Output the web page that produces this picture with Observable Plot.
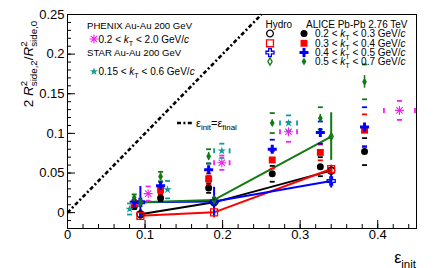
<!DOCTYPE html>
<html><head><meta charset="utf-8">
<script src="https://cdn.jsdelivr.net/npm/d3@7"></script>
<script src="https://cdn.jsdelivr.net/npm/@observablehq/plot@0.6"></script>
<style>
html,body{margin:0;padding:0;background:#fff;}
#chart{width:436px;height:268px;overflow:hidden;position:relative}
#chart svg{display:block}
text{white-space:pre}
</style></head><body><div id="chart"></div>
<script>
// ---------- data ----------
const aliceEps = [0.086, 0.120, 0.182, 0.264, 0.326, 0.383];
const aliceKt1 = [0.0076, 0.0186, 0.031, 0.049, 0.058, 0.077];
const aliceKt2 = [0.011, 0.0287, 0.0425, 0.0665, 0.076, 0.104];
const aliceKt3 = [0.013, 0.034, 0.054, 0.080, 0.101, 0.108];
const aliceKt4 = [0.019, 0.0455, 0.071, 0.113, 0.119, 0.165];
const aliceStat1 = [0.001, 0.001, 0.001, 0.001, 0.001, 0.001];
const aliceStat2 = [0.001, 0.001, 0.001, 0.001, 0.001, 0.002];
const aliceStat3 = [0.002, 0.002, 0.002, 0.002, 0.002, 0.003];
const aliceStat4 = [0.004, 0.005, 0.005, 0.004, 0.005, 0.008];
const aliceSys1 = [0.003, 0.004, 0.006, 0.010, 0.012, 0.017];
const aliceSys2 = [0.003, 0.005, 0.007, 0.011, 0.010, 0.020];
const aliceSys3 = [0.003, 0.005, 0.008, 0.012, 0.014, 0.025];
const aliceSys4 = [0.004, 0.006, 0.009, 0.0126, 0.014, 0.022];
const ktLow = ["0.2", "0.3", "0.4", "0.5"];
const ktHigh = ["0.3", "0.4", "0.5", "0.7"];

const hydroEps = [0.094, 0.189, 0.340];
const hydroKt1 = [-0.002, 0.013, 0.053];
const hydroKt2 = [-0.004, 0.0004, 0.055];
const hydroKt3 = [0.013, 0.014, 0.040];
const hydroKt4 = [0.013, 0.016, 0.096];
const hydroErr1 = [0.006, 0.004, 0.004];
const hydroErr2 = [0.006, 0.007, 0.005];
const hydroErr3 = [0.020, 0.018, 0.009];
const hydroErr4 = [0.004, 0.005, 0.030];

const phenixEps = [0.104, 0.199, 0.285, 0.428];
const phenixVal = [0.024, 0.063, 0.102, 0.129];
const phenixEpsSys = [0, 0.010, 0.011, 0.020];
const phenixSys = [0.009, 0.009, 0.0126, 0.012];

const starEps = [0.080, 0.129, 0.199, 0.285];
const starVal = [0.0046, 0.029, 0.078, 0.113];
const starEpsSys = [0, 0, 0.010, 0.011];
const starSys = [0.007, 0.011, 0.009, 0.0097];

const refX = [0, 0.25];
const refY = [0, 0.25];

const xMajor = [0, 0.1, 0.2, 0.3, 0.4];
const yMajor = [0, 0.05, 0.1, 0.15, 0.2, 0.25];

// ---------- styles ----------
const colors = ["#000000", "#ff0000", "#0000ff", "#137a13"];
const magenta = "#ee22ee";
const teal = "#109c9c";
const asterisk8 = {draw(ctx, size) {
  const r = Math.sqrt(size / Math.PI), d = r * Math.SQRT1_2;
  ctx.moveTo(-r, 0); ctx.lineTo(r, 0); ctx.moveTo(0, -r); ctx.lineTo(0, r);
  ctx.moveTo(-d, -d); ctx.lineTo(d, d); ctx.moveTo(-d, d); ctx.lineTo(d, -d);
}};
const hdash = {draw(ctx, size) { const r = Math.sqrt(size / Math.PI); ctx.moveTo(-r, 0); ctx.lineTo(r, 0); }};
const vdash = {draw(ctx, size) { const r = Math.sqrt(size / Math.PI); ctx.moveTo(0, -r); ctx.lineTo(0, r); }};
const aliceSym = [
  {symbol: "circle", r: 3.5}, {symbol: "square", r: 3.9},
  {symbol: "cross", r: 3.8}, {symbol: "diamond", r: 2.5}
];
const hydroSym = [
  {symbol: "circle", r: 3.4}, {symbol: "square", r: 3.9},
  {symbol: "cross", r: 3.4}, {symbol: "diamond", r: 2.2}
];

// ---------- tables ----------
const aliceVals = [aliceKt1, aliceKt2, aliceKt3, aliceKt4];
const aliceStats = [aliceStat1, aliceStat2, aliceStat3, aliceStat4];
const aliceSyss = [aliceSys1, aliceSys2, aliceSys3, aliceSys4];
const alice = aliceVals.flatMap((vals, s) => vals.map((v, i) => ({eps: aliceEps[i], v, stat: aliceStats[s][i], sys: aliceSyss[s][i], s, color: colors[s]})));
const hydroVals = [hydroKt1, hydroKt2, hydroKt3, hydroKt4];
const hydroErrs = [hydroErr1, hydroErr2, hydroErr3, hydroErr4];
const hydro = hydroVals.flatMap((vals, s) => vals.map((v, i) => ({eps: hydroEps[i], v, err: hydroErrs[s][i], s, color: colors[s]})));
const phenix = phenixEps.map((eps, i) => ({eps, v: phenixVal[i], dx: phenixEpsSys[i], dy: phenixSys[i]}));
const star = starEps.map((eps, i) => ({eps, v: starVal[i], dx: starEpsSys[i], dy: starSys[i]}));
const ref = refX.map((x, i) => ({x, y: refY[i]}));

const mL = 67, mR = 20, mT = 14, mB = 40, W = 436, H = 268;
const plotW = W - mL - mR, plotH = H - mT - mB;
const fmt = d3.format("~g");

const sysMarks = (rows, color) => [
  Plot.dot(rows.filter(d => d.dy > 0), {x: "eps", y: d => d.v + d.dy, symbol: hdash, r: 2.5, stroke: color, strokeWidth: 1.8}),
  Plot.dot(rows.filter(d => d.dy > 0), {x: "eps", y: d => d.v - d.dy, symbol: hdash, r: 2.5, stroke: color, strokeWidth: 1.8}),
  Plot.dot(rows.filter(d => d.dx > 0), {x: d => d.eps - d.dx, y: "v", symbol: vdash, r: 2.5, stroke: color, strokeWidth: 1.8}),
  Plot.dot(rows.filter(d => d.dx > 0), {x: d => d.eps + d.dx, y: "v", symbol: vdash, r: 2.5, stroke: color, strokeWidth: 1.8})
];

const dashRef = "4,2.4,2,2.4";
const marks = [
  // axis ticks (inward)
  Plot.tickX(d3.range(0, 0.4501, 0.02), {x: d => d, stroke: "black", insetTop: plotH - 4}),
  Plot.tickX(xMajor, {x: d => d, stroke: "black", insetTop: plotH - 8}),
  Plot.tickY(d3.range(-0.02, 0.2501, 0.01), {y: d => d, stroke: "black", insetRight: plotW - 4}),
  Plot.tickY(yMajor, {y: d => d, stroke: "black", insetRight: plotW - 8}),
  Plot.text(xMajor, {x: d => d, text: d => fmt(d), frameAnchor: "bottom", dy: 10, fontSize: 13}),
  Plot.text(yMajor, {y: d => d, text: d => fmt(d), frameAnchor: "left", textAnchor: "end", dx: -3, fontSize: 13}),
  // reference line
  Plot.line(ref, {x: "x", y: "y", stroke: "black", strokeWidth: 2.6, strokeDasharray: dashRef, strokeLinecap: "butt"}),
  // hydro lines
  Plot.line(hydro, {x: "eps", y: "v", z: "s", stroke: "color", strokeWidth: 2}),
  Plot.ruleX(hydro, {x: "eps", y1: d => d.v - d.err, y2: d => d.v + d.err, stroke: "color", strokeWidth: 2}),
  ...hydroSym.map((sy, s) => Plot.dot(hydro.filter(d => d.s === s), {x: "eps", y: "v", symbol: sy.symbol, r: sy.r, stroke: colors[s], fill: "none", strokeWidth: 1.3})),
  // ALICE
  ...aliceSyss.map((_, s) => sysMarks(alice.filter(d => d.s === s).map(d => ({...d, dy: d.sys, dx: 0})), colors[s])).flat(),
  Plot.ruleX(alice, {x: "eps", y1: d => d.v - d.stat, y2: d => d.v + d.stat, stroke: "color", strokeWidth: 1.5}),
  ...aliceSym.map((sy, s) => Plot.dot(alice.filter(d => d.s === s), {x: "eps", y: "v", symbol: sy.symbol, r: sy.r, fill: colors[s], stroke: "none"})),
  // PHENIX & STAR
  ...sysMarks(phenix, magenta),
  ...sysMarks(star, teal),
  Plot.dot(phenix, {x: "eps", y: "v", symbol: asterisk8, r: 4.5, stroke: magenta, strokeWidth: 1.1}),
  Plot.dot(star, {x: "eps", y: "v", symbol: "star", r: 2.6, fill: teal, stroke: "none"}),
  Plot.frame({stroke: "black", strokeWidth: 1})
];

const chart = Plot.plot({
  width: W, height: H,
  marginLeft: mL, marginRight: mR, marginTop: mT, marginBottom: mB,
  x: {domain: [0, 0.45], axis: null},
  y: {domain: [-0.02, 0.25], axis: null},
  style: {fontFamily: "'Liberation Sans', Arial, sans-serif", background: "white", color: "black"},
  marks
});
document.getElementById("chart").appendChild(chart);

// ---------- rich text (sub/superscripts) ----------
const svg = d3.select(chart);
const FONT = "'Liberation Sans', Arial, sans-serif";
function rich(segs, {x, y, size, anchor = "start", rotate = 0}) {
  const outer = svg.append("g").attr("transform", `translate(${x},${y})` + (rotate ? ` rotate(${rotate})` : ""));
  const inner = outer.append("g");
  let cx = 0, prevX = 0;
  for (const s of segs) {
    const small = s.sub || s.sup;
    const fs = small ? size * 0.72 : size;
    const dy = s.sub ? size * 0.32 : s.sup ? -size * 0.42 : 0;
    const t = inner.append("text").attr("font-family", FONT).attr("font-size", fs)
      .attr("text-anchor", "start").attr("y", dy).attr("fill", "black").text(s.t);
    if (s.italic) t.attr("font-style", "italic");
    const w = t.node().getComputedTextLength();
    if (s.stack) { t.attr("x", prevX); cx = Math.max(cx, prevX + w); }
    else { t.attr("x", cx); prevX = cx; cx += w; }
  }
  if (anchor === "middle") inner.attr("transform", `translate(${-cx / 2},0)`);
  if (anchor === "end") inner.attr("transform", `translate(${-cx},0)`);
}
const sym = (type, r) => d3.symbol(type === "asterisk8" ? asterisk8 : d3["symbol" + type[0].toUpperCase() + type.slice(1)], Math.PI * r * r)();

// Y label
rich([{t: "2 "}, {t: "R", italic: true}, {t: "2", sup: true}, {t: "side,2", sub: true, stack: true},
      {t: "/"}, {t: "R", italic: true}, {t: "2", sup: true}, {t: "side,0", sub: true, stack: true}],
     {x: 33, y: 64, size: 13.5, anchor: "middle", rotate: -90});
// X label
rich([{t: "ε"}, {t: "init", sub: true}], {x: 416, y: 263, size: 16, anchor: "end"});

// Left legend
const LS = 10;
rich([{t: "PHENIX Au-Au 200 GeV"}], {x: 87, y: 28.5, size: 9.6});
svg.append("path").attr("d", sym("asterisk8", 4.5)).attr("transform", "translate(94,39)").attr("stroke", magenta).attr("fill", "none").attr("stroke-width", 1.1);
rich([{t: "0.2 < "}, {t: "k", italic: true}, {t: "T", sub: true}, {t: " < 2.0 GeV/"}, {t: "c", italic: true}], {x: 98.5, y: 42.5, size: LS});
rich([{t: "STAR Au-Au 200 GeV"}], {x: 87, y: 56, size: 9.6});
svg.append("path").attr("d", sym("star", 2.6)).attr("transform", "translate(94,71.5)").attr("fill", teal);
rich([{t: "0.15 < "}, {t: "k", italic: true}, {t: "T", sub: true}, {t: " < 0.6 GeV/"}, {t: "c", italic: true}], {x: 98.5, y: 75, size: LS});

// Right legend
rich([{t: "Hydro"}], {x: 265.5, y: 27.5, size: LS});
rich([{t: "ALICE Pb-Pb 2.76 TeV"}], {x: 306, y: 27.5, size: LS});
const rowsY = [33.5, 43.3, 52.6, 61.5];
rowsY.forEach((yy, s) => {
  svg.append("path").attr("d", sym(hydroSym[s].symbol, hydroSym[s].r)).attr("transform", `translate(270,${yy})`)
    .attr("fill", "none").attr("stroke", colors[s]).attr("stroke-width", 1.3);
  svg.append("path").attr("d", sym(aliceSym[s].symbol, aliceSym[s].r)).attr("transform", `translate(304,${yy})`)
    .attr("fill", colors[s]);
  rich([{t: ktLow[s] + " < "}, {t: "k", italic: true}, {t: "T", sub: true}, {t: " < " + ktHigh[s] + " GeV/"}, {t: "c", italic: true}],
       {x: 315, y: yy + 3.6, size: LS});
});

// reference-line legend
svg.append("line").attr("x1", 177).attr("x2", 194).attr("y1", 123).attr("y2", 123)
  .attr("stroke", "black").attr("stroke-width", 2.6).attr("stroke-dasharray", dashRef);
rich([{t: "ε"}, {t: "init", sub: true}, {t: "=ε"}, {t: "final", sub: true}], {x: 196, y: 126.5, size: 11});
</script>
</body></html>
